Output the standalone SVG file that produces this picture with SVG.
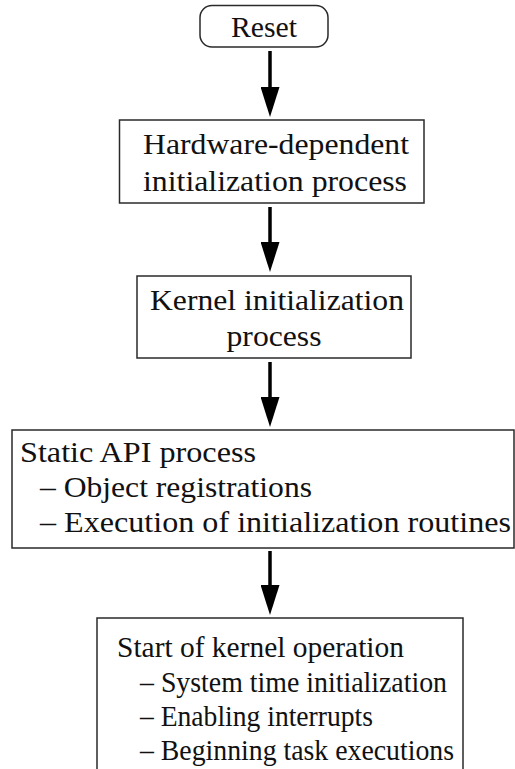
<svg xmlns="http://www.w3.org/2000/svg" width="515" height="769" viewBox="0 0 515 769">
  <style>
    .box { fill: #ffffff; stroke: #2a2a2a; stroke-width: 1.5; }
    .lbl { font-family: 'Liberation Serif', 'Times New Roman', Times, serif; font-size: 30px; fill: #111111; }
    .mid { text-anchor: middle; }
    .flow { stroke: #000000; stroke-width: 3.5; fill: none; marker-end: url(#head); }
  </style>
  <defs>
    <marker id="head" markerUnits="userSpaceOnUse" viewBox="0 -9.5 30 19" refX="0" refY="0" markerWidth="30" markerHeight="19" orient="auto">
      <path d="M0,-9.5 L30,0 L0,9.5 Z" fill="#000000"/>
    </marker>
  </defs>
  <rect width="515" height="769" fill="#ffffff"/>

  <!-- start node -->
  <g id="reset">
    <rect class="box" x="200" y="5.5" width="128" height="41.5" rx="12" ry="12"/>
    <text class="lbl mid" x="264" y="37" font-size="27" textLength="66" lengthAdjust="spacingAndGlyphs">Reset</text>
  </g>

  <g id="hw-init">
    <rect class="box" x="119.5" y="120" width="304.5" height="83"/>
    <text class="lbl mid" x="276" y="154" textLength="266" lengthAdjust="spacingAndGlyphs">Hardware-dependent</text>
    <text class="lbl mid" x="275" y="191" textLength="264" lengthAdjust="spacingAndGlyphs">initialization process</text>
  </g>

  <g id="kernel-init">
    <rect class="box" x="137" y="276" width="274" height="82"/>
    <text class="lbl mid" x="277" y="310" textLength="254" lengthAdjust="spacingAndGlyphs">Kernel initialization</text>
    <text class="lbl mid" x="274" y="346" textLength="95" lengthAdjust="spacingAndGlyphs">process</text>
  </g>

  <g id="static-api">
    <rect class="box" x="12" y="430" width="502" height="118"/>
    <text class="lbl" x="20" y="462" textLength="236" lengthAdjust="spacingAndGlyphs">Static API process</text>
    <text class="lbl" x="40" y="497" textLength="272" lengthAdjust="spacingAndGlyphs">– Object registrations</text>
    <text class="lbl" x="40" y="532" textLength="471" lengthAdjust="spacingAndGlyphs">– Execution of initialization routines</text>
  </g>

  <!-- open at the bottom: the frame runs past the lower edge -->
  <g id="kernel-start">
    <rect class="box" x="97" y="618" width="366" height="200"/>
    <text class="lbl" x="117" y="657" textLength="287" lengthAdjust="spacingAndGlyphs">Start of kernel operation</text>
    <text class="lbl" x="140" y="692" textLength="307" lengthAdjust="spacingAndGlyphs">– System time initialization</text>
    <text class="lbl" x="140" y="726" textLength="233" lengthAdjust="spacingAndGlyphs">– Enabling interrupts</text>
    <text class="lbl" x="140" y="760" textLength="314" lengthAdjust="spacingAndGlyphs">– Beginning task executions</text>
  </g>

  <g id="connectors">
    <line class="flow" x1="270" y1="51" x2="270" y2="87"/>
    <line class="flow" x1="270" y1="207" x2="270" y2="242"/>
    <line class="flow" x1="270" y1="362" x2="270" y2="397"/>
    <line class="flow" x1="270" y1="551" x2="270" y2="585"/>
  </g>
</svg>
